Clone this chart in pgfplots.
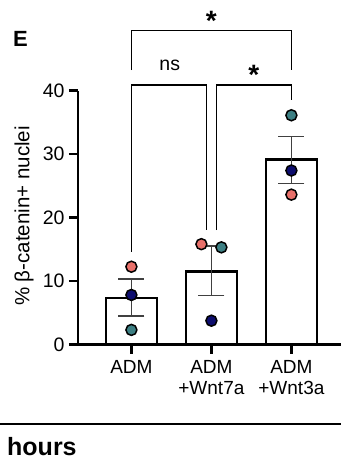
\documentclass[border=0pt]{standalone}
\usepackage{pgfplots}
\pgfplotsset{compat=1.18}
\usepackage{fontspec}
\setmainfont{Liberation Sans}
\definecolor{cpink}{HTML}{E8706A}
\definecolor{cnavy}{HTML}{0D0D6E}
\definecolor{cteal}{HTML}{3C7F83}
\definecolor{cerr}{HTML}{404040}
\begin{document}
\begin{tikzpicture}
\useasboundingbox (-78pt,-116.5pt) rectangle (263pt,344.5pt);
\begin{axis}[
  at={(0pt,0pt)}, anchor=south west,
  scale only axis, width=263pt, height=254pt,
  xmin=-0.6675, xmax=2.62, ymin=0, ymax=40,
  axis x line=bottom, axis y line=left,
  axis line style={-, line width=2.5pt},
  every tick/.style={black, line width=2.5pt},
  tick align=outside, major tick length=9pt,
  xtick={0,1,2}, xticklabels={ADM, ADM\\+Wnt7a, ADM\\+Wnt3a},
  ytick={0,10,20,30,40},
  xticklabel style={align=center, font=\fontsize{19}{21.5}\selectfont, yshift=-3pt},
  yticklabel style={font=\fontsize{19.5}{22}\selectfont, xshift=-1pt},
  /pgf/number format/assume math mode=true,
  clip=false,
]
\addplot[ybar, bar width=51pt, bar shift=0pt, fill=white, draw=black, line width=2.5pt]
  coordinates {(0,7.3) (1,11.5) (2,29.1)};
\addplot[draw=none, mark=none,
  error bars/.cd, y dir=both, y explicit,
  error bar style={line width=1.2pt, color=cerr},
  error mark options={rotate=90, mark size=13pt, line width=1.2pt, color=cerr}]
  coordinates {(0,7.4) +- (0,2.9) (1,11.6) +- (0,3.9) (2,29.05) +- (0,3.75)};
\addplot[only marks, mark=*, mark size=5.5pt, mark options={fill=cpink, draw=black, line width=1.5pt}]
  coordinates {(0,12.25) (0.875,15.8) (2,23.6)};
\addplot[only marks, mark=*, mark size=5.5pt, mark options={fill=cnavy, draw=black, line width=1.5pt}]
  coordinates {(0,7.8) (1,3.75) (2,27.4)};
\addplot[only marks, mark=*, mark size=5.5pt, mark options={fill=cteal, draw=black, line width=1.5pt}]
  coordinates {(0,2.3) (1.125,15.3) (2,36.1)};
% significance brackets
\draw[line width=1.1pt] (axis cs:0,43.2) -- (axis cs:0,49.4) -- (axis cs:2,49.4) -- (axis cs:2,43.2);
\draw[line width=1.1pt] (axis cs:0,14.6) -- (axis cs:0,40.87) -- (axis cs:0.9375,40.87) -- (axis cs:0.9375,18.0);
\draw[line width=1.1pt] (axis cs:1.0625,18.0) -- (axis cs:1.0625,40.87) -- (axis cs:2,40.87) -- (axis cs:2,38.5);
\node[font=\fontsize{28}{30}\bfseries\selectfont, inner sep=0pt] at (axis cs:1,51.0) {*};
\node[font=\fontsize{28}{30}\bfseries\selectfont, inner sep=0pt] at (axis cs:1.53,42.4) {*};
\node[font=\fontsize{19.5}{22}\selectfont, inner sep=0pt] at (axis cs:0.479,44.0) {ns};
\end{axis}
\node[rotate=90, font=\fontsize{20.5}{23}\selectfont, inner sep=0pt] at (-54pt,128.5pt) {\% β-catenin+ nuclei};
\node[anchor=base west, font=\fontsize{22}{24}\bfseries\selectfont, inner sep=0pt] at (-65pt,298pt) {E};
\draw[line width=1.6pt] (-78pt,-79.5pt) -- (263pt,-79.5pt);
\node[anchor=base west, font=\fontsize{25}{28}\bfseries\selectfont, inner sep=0pt] at (-71pt,-110.5pt) {hours};
\end{tikzpicture}
\end{document}
